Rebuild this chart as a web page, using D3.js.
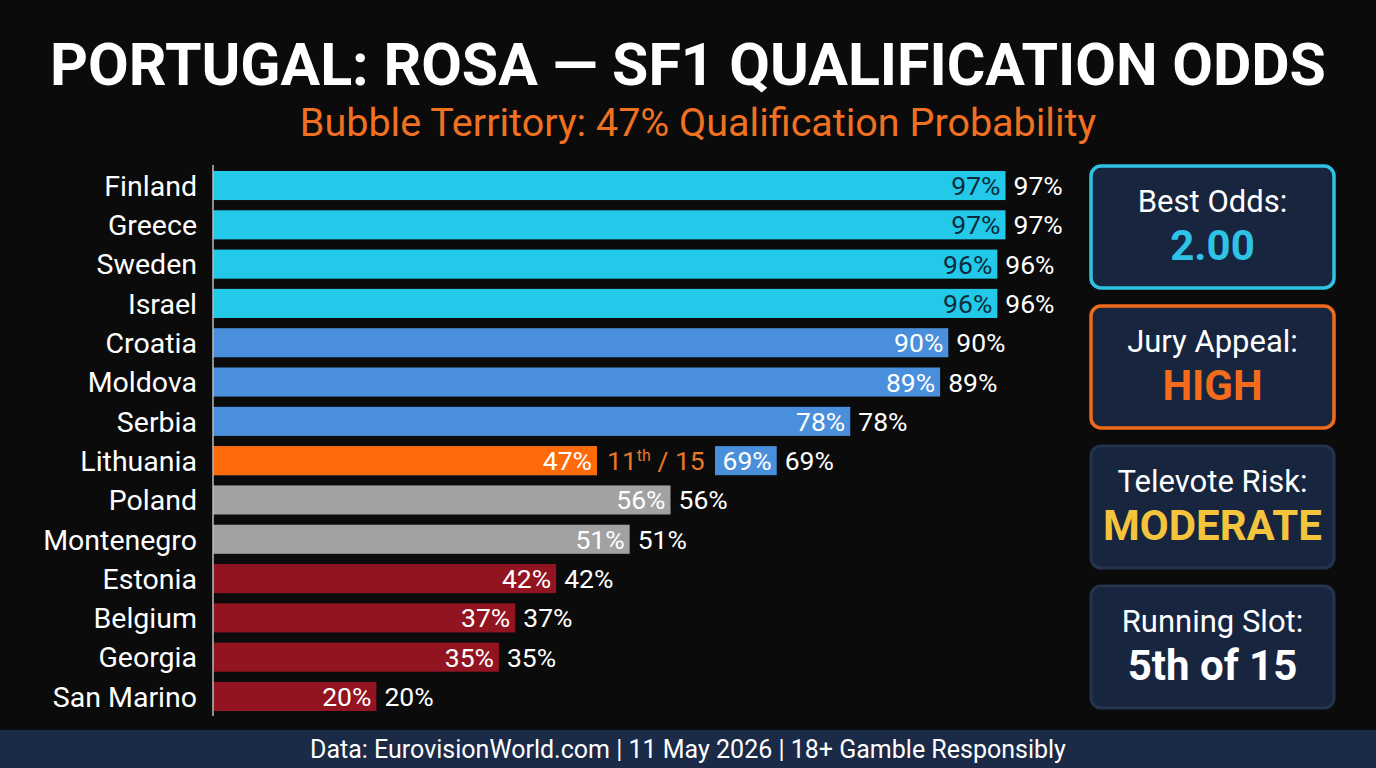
<!DOCTYPE html>
<html>
<head>
<meta charset="utf-8">
<script src="https://cdn.jsdelivr.net/npm/d3@7"></script>
<style>
  body { margin: 0; background: #0b0b0b; }
  svg { display: block; font-family: Roboto, "Noto Sans", sans-serif; }
</style>
</head>
<body>
<div id="chart"></div>
<script>
const countries = ["Finland", "Greece", "Sweden", "Israel", "Croatia", "Moldova", "Serbia",
  "Lithuania", "Poland", "Montenegro", "Estonia", "Belgium", "Georgia", "San Marino"];
const probs = [97, 97, 96, 96, 90, 89, 78, 69, 56, 51, 42, 37, 35, 20];
const tiers = ["top", "top", "top", "top", "safe", "safe", "safe", "safe",
  "bubble", "bubble", "out", "out", "out", "out"];
const portugalProb = 47;
const portugalRank = 11;
const totalEntries = 15;
const cardTitles = ["Best Odds:", "Jury Appeal:", "Televote Risk:", "Running Slot:"];
const cardValues = ["2.00", "HIGH", "MODERATE", "5th of 15"];

const W = 1376, H = 768;
const margin = { top: 169, right: 345, bottom: 55, left: 213 };

const tierColor = { top: "#22c9e9", safe: "#4a8fdb", bubble: "#a2a2a2", out: "#921421" };
const tierText = { top: "#0c2c3a", safe: "#ffffff", bubble: "#ffffff", out: "#ffffff" };
const cardBorder = ["#2fc3e3", "#f06a1c", "#25334d", "#25334d"];
const cardValueColor = ["#2ec3e6", "#f26c1c", "#f3c43c", "#ffffff"];

const data = countries.map((c, i) => ({ country: c, prob: probs[i], tier: tiers[i] }));

const svg = d3.select("#chart").append("svg")
  .attr("width", W).attr("height", H);

svg.append("rect").attr("width", W).attr("height", H).attr("fill", "#0b0b0b");

// title
svg.append("text")
  .attr("x", W / 2).attr("y", 85)
  .attr("text-anchor", "middle")
  .attr("fill", "#fff")
  .style("font-weight", 700)
  .style("font-size", "59px")
  .text("PORTUGAL: ROSA \u2014 SF1 QUALIFICATION ODDS");

svg.append("text")
  .attr("x", W / 2 + 10).attr("y", 136)
  .attr("text-anchor", "middle")
  .attr("fill", "#f07122")
  .style("font-size", "39.5px")
  .text(`Bubble Territory: ${portugalProb}% Qualification Probability`);

const x = d3.scaleLinear().domain([0, 100]).range([margin.left, 1030]);
const y = d3.scaleBand().domain(countries)
  .range([margin.top, 713]).paddingInner(0.26).paddingOuter(0.05);

const g = svg.append("g");

// bars
g.selectAll(".bar").data(data).enter().append("rect")
  .attr("class", "bar")
  .attr("x", x(0))
  .attr("y", d => y(d.country))
  .attr("width", d => x(d.prob) - x(0))
  .attr("height", y.bandwidth())
  .attr("fill", d => tierColor[d.tier]);

// inside labels
g.selectAll(".in-label").data(data).enter().append("text")
  .attr("x", d => x(d.prob) - 5)
  .attr("y", d => y(d.country) + y.bandwidth() / 2)
  .attr("dy", "0.36em")
  .attr("text-anchor", "end")
  .attr("fill", d => tierText[d.tier])
  .style("font-size", "26.5px")
  .text(d => d.prob + "%");

// outside labels
g.selectAll(".out-label").data(data).enter().append("text")
  .attr("x", d => x(d.prob) + 8)
  .attr("y", d => y(d.country) + y.bandwidth() / 2)
  .attr("dy", "0.36em")
  .attr("fill", "#fff")
  .style("font-size", "26.5px")
  .text(d => d.prob + "%");

// Portugal overlay on Lithuania row
const pRow = "Lithuania";
g.append("rect")
  .attr("x", x(0)).attr("y", y(pRow))
  .attr("width", x(portugalProb) - x(0)).attr("height", y.bandwidth())
  .attr("fill", "#ff6b0b");
g.append("rect")
  .attr("x", x(portugalProb)).attr("y", y(pRow) - 1)
  .attr("width", 118).attr("height", y.bandwidth() + 2)
  .attr("fill", "#0b0b0b");
g.append("text")
  .attr("x", x(portugalProb) - 5)
  .attr("y", y(pRow) + y.bandwidth() / 2).attr("dy", "0.36em")
  .attr("text-anchor", "end").attr("fill", "#fff")
  .style("font-size", "26.5px").text(portugalProb + "%");
const rankText = g.append("text")
  .attr("x", x(portugalProb) + 10)
  .attr("y", y(pRow) + y.bandwidth() / 2).attr("dy", "0.36em")
  .attr("fill", "#e8782a").style("font-size", "26.5px");
rankText.append("tspan").text(portugalRank);
rankText.append("tspan").attr("dy", "-9").style("font-size", "16px").text("th");
rankText.append("tspan").attr("dy", "9").text(" / " + totalEntries);

// country labels
g.selectAll(".name").data(data).enter().append("text")
  .attr("x", 197)
  .attr("y", d => y(d.country) + y.bandwidth() / 2)
  .attr("dy", "0.36em")
  .attr("text-anchor", "end")
  .attr("fill", "#fff")
  .style("font-size", "28.5px")
  .text(d => d.country);

// axis line
svg.append("line")
  .attr("x1", x(0)).attr("x2", x(0))
  .attr("y1", 165).attr("y2", 716)
  .attr("stroke", "#bbb").attr("stroke-width", 1.5);

// side cards
const cardTops = [166, 306, 446, 586];
const card = svg.selectAll(".card").data(cardTitles).enter().append("g")
  .attr("transform", (d, i) => `translate(1091,${cardTops[i]})`);
card.append("rect")
  .attr("width", 243).attr("height", 122).attr("rx", 10)
  .attr("fill", "#17253f")
  .attr("stroke", (d, i) => cardBorder[i])
  .attr("stroke-width", (d, i) => i < 2 ? 3.5 : 3);
card.append("text")
  .attr("x", 121.5).attr("y", 46)
  .attr("text-anchor", "middle").attr("fill", "#fff")
  .style("font-size", "31px")
  .text(d => d);
card.append("text")
  .attr("x", 121.5).attr("y", 94)
  .attr("text-anchor", "middle")
  .attr("fill", (d, i) => cardValueColor[i])
  .style("font-size", "42px").style("font-weight", 700)
  .text((d, i) => cardValues[i]);

// footer
svg.append("rect").attr("x", 0).attr("y", 730).attr("width", W).attr("height", 38)
  .attr("fill", "#1b2a47");
svg.append("text")
  .attr("x", W / 2).attr("y", 758)
  .attr("text-anchor", "middle").attr("fill", "#fff")
  .style("font-size", "25px")
  .text("Data: EurovisionWorld.com | 11 May 2026 | 18+ Gamble Responsibly");
</script>
</body>
</html>
